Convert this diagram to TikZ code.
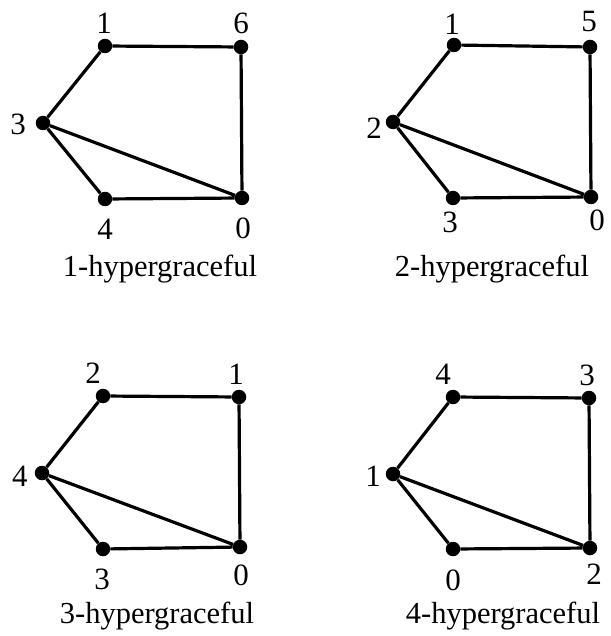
\documentclass[tikz,border=0pt]{standalone}
\usepackage{fontspec}
\setmainfont{Liberation Serif}
\begin{document}
\begin{tikzpicture}[x=1pt,y=-1pt,
  vtx/.style={circle,fill=black,inner sep=0pt,minimum size=14.5pt},
  lbl/.style={inner sep=0pt,font=\fontsize{31}{33}\selectfont},
  captext/.style={inner sep=0pt,font=\fontsize{30.5}{33}\selectfont},
  gedge/.style={line width=3.2pt}]
\useasboundingbox (0,0) rectangle (610,636);
% graph 1
\node[vtx] (a1) at (105,46) {};
\node[vtx] (a2) at (241,47) {};
\node[vtx] (a3) at (43,123) {};
\node[vtx] (a4) at (105,199) {};
\node[vtx] (a5) at (242,198) {};
\node[lbl] (la1) at (104,23) {1};
\node[lbl] (la2) at (241,23) {6};
\node[lbl] (la3) at (18,124) {3};
\node[lbl] (la4) at (105,229) {4};
\node[lbl] (la5) at (243,228) {0};
\node[captext] (ca) at (160,269) {1-hypergraceful};
\draw[gedge] (a1)--(a2) (a1)--(a3) (a3)--(a4) (a3)--(a5) (a4)--(a5) (a2)--(a5);
% graph 2
\node[vtx] (b1) at (454,45) {};
\node[vtx] (b2) at (590,47) {};
\node[vtx] (b3) at (393,122) {};
\node[vtx] (b4) at (453,198) {};
\node[vtx] (b5) at (591,197) {};
\node[lbl] (lb1) at (452,24) {1};
\node[lbl] (lb2) at (589,22) {5};
\node[lbl] (lb3) at (374,128) {2};
\node[lbl] (lb4) at (450,222) {3};
\node[lbl] (lb5) at (597,220) {0};
\node[captext] (cb) at (492,269) {2-hypergraceful};
\draw[gedge] (b1)--(b2) (b1)--(b3) (b3)--(b4) (b3)--(b5) (b4)--(b5) (b2)--(b5);
% graph 3
\node[vtx] (c1) at (103,396) {};
\node[vtx] (c2) at (239,397) {};
\node[vtx] (c3) at (42,473) {};
\node[vtx] (c4) at (103,549) {};
\node[vtx] (c5) at (240,547) {};
\node[lbl] (lc1) at (93,373) {2};
\node[lbl] (lc2) at (236,374) {1};
\node[lbl] (lc3) at (20,476) {4};
\node[lbl] (lc4) at (102,579) {3};
\node[lbl] (lc5) at (241,575) {0};
\node[captext] (cc) at (157,616) {3-hypergraceful};
\draw[gedge] (c1)--(c2) (c1)--(c3) (c3)--(c4) (c3)--(c5) (c4)--(c5) (c2)--(c5);
% graph 4
\node[vtx] (d1) at (453,397) {};
\node[vtx] (d2) at (589,398) {};
\node[vtx] (d3) at (393,474) {};
\node[vtx] (d4) at (453,549) {};
\node[vtx] (d5) at (590,548) {};
\node[lbl] (ld1) at (443,374) {4};
\node[lbl] (ld2) at (587,375) {3};
\node[lbl] (ld3) at (373,476) {1};
\node[lbl] (ld4) at (453,580) {0};
\node[lbl] (ld5) at (594,574) {2};
\node[captext] (cd) at (503,616) {4-hypergraceful};
\draw[gedge] (d1)--(d2) (d1)--(d3) (d3)--(d4) (d3)--(d5) (d4)--(d5) (d2)--(d5);
\end{tikzpicture}
\end{document}
